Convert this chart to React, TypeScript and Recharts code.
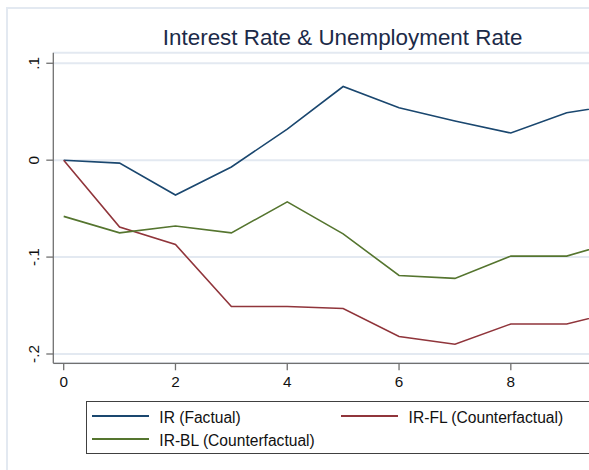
import React from "react";
import { LineChart, Line, XAxis, YAxis, CartesianGrid, Legend } from "recharts";

const periods = [0, 1, 2, 3, 4, 5, 6, 7, 8, 9, 10];
const irFactual = [0, -0.003, -0.036, -0.007, 0.032, 0.076, 0.054, 0.0405, 0.028, 0.049, 0.058];
const irFL = [0, -0.069, -0.087, -0.151, -0.151, -0.153, -0.182, -0.19, -0.169, -0.169, -0.155];
const irBL = [-0.058, -0.075, -0.068, -0.075, -0.043, -0.076, -0.119, -0.122, -0.099, -0.099, -0.082];

const xTicks = [0, 2, 4, 6, 8];
const yTicks = [-0.2, -0.1, 0, 0.1];
const yTickLabels: Record<string, string> = { "-0.2": "-.2", "-0.1": "-.1", "0": "0", "0.1": ".1" };

const titleText = "Interest Rate & Unemployment Rate";
const seriesNames = ["IR (Factual)", "IR-FL (Counterfactual)", "IR-BL (Counterfactual)"];
const seriesColors = ["#1a476f", "#90353b", "#55752f"];

const data = periods.map((p, i) => ({ x: p, ir: irFactual[i], fl: irFL[i], bl: irBL[i] }));

const FONT = "'Liberation Sans', Arial, sans-serif";

const XTick = (props: any) => {
  const { x, y, payload } = props;
  return (
    <text x={x} y={y} dy={15} textAnchor="middle" fontSize={15.3} fontFamily={FONT} fill="#111">
      {String(payload.value)}
    </text>
  );
};

const YTick = (props: any) => {
  const { x, y, payload } = props;
  const label = yTickLabels[String(payload.value)] ?? String(payload.value);
  return (
    <text
      transform={`translate(${x - 5}, ${y}) rotate(-90)`}
      x={0}
      y={0}
      textAnchor="middle"
      fontSize={15.3}
      fontFamily={FONT}
      fill="#111"
    >
      {label}
    </text>
  );
};

const LegendBox = () => {
  const items = [
    { name: seriesNames[0], color: seriesColors[0], left: 4.7, top: 15.3 },
    { name: seriesNames[1], color: seriesColors[1], left: 254, top: 15.3 },
    { name: seriesNames[2], color: seriesColors[2], left: 4.7, top: 38.3 },
  ];
  return (
    <div
      style={{
        position: "relative",
        width: 560,
        height: 53,
        border: "1px solid #404040",
        boxSizing: "border-box",
        background: "#fff",
        fontFamily: FONT,
      }}
    >
      {items.map((it) => (
        <div key={it.name}>
          <div
            style={{
              position: "absolute",
              left: it.left,
              top: it.top - 1.5,
              width: 57,
              height: 2,
              background: it.color,
            }}
          />
          <div
            style={{
              position: "absolute",
              left: it.left + 67.6,
              top: it.top - 8.5,
              fontSize: 15.6,
              lineHeight: "19px",
              color: "#111",
              whiteSpace: "nowrap",
            }}
          >
            {it.name}
          </div>
        </div>
      ))}
    </div>
  );
};

export default function App() {
  return (
    <div
      style={{
        position: "absolute",
        left: 0,
        top: 0,
        width: 589,
        height: 470,
        overflow: "hidden",
        background: "#fff",
        fontFamily: FONT,
      }}
    >
      <div
        style={{
          position: "absolute",
          left: 6,
          top: 7,
          width: 800,
          height: 800,
          border: "2px solid #e3e9f1",
          boxSizing: "border-box",
        }}
      />
      <svg style={{ position: "absolute", left: 0, top: 0 }} width={589} height={60}>
        <text x={342.7} y={45} textAnchor="middle" fontSize={22.4} fontFamily={FONT} fill="#1c2a48">
          {titleText}
        </text>
      </svg>
      <div style={{ position: "absolute", left: 0, top: 0 }}>
        <LineChart
          width={660}
          height={470}
          data={data}
          margin={{ top: 52.7, right: 27, bottom: 76.7, left: 0 }}
        >
          <CartesianGrid vertical={false} stroke="#e3e9f1" strokeWidth={2} />
          <XAxis
            dataKey="x"
            type="number"
            domain={[-0.186, 10.186]}
            ticks={xTicks}
            allowDataOverflow
            height={30}
            tickSize={7}
            tick={<XTick />}
            axisLine={{ stroke: "#707070", strokeWidth: 1.3 }}
            tickLine={{ stroke: "#707070", strokeWidth: 1.3 }}
          />
          <YAxis
            type="number"
            domain={[-0.2096, 0.1109]}
            ticks={yTicks}
            allowDataOverflow
            width={53.3}
            tickSize={7}
            tick={<YTick />}
            axisLine={{ stroke: "#707070", strokeWidth: 1.3 }}
            tickLine={{ stroke: "#707070", strokeWidth: 1.3 }}
          />
          <Line type="linear" dataKey="ir" name={seriesNames[0]} stroke={seriesColors[0]} strokeWidth={1.6} dot={false} isAnimationActive={false} />
          <Line type="linear" dataKey="fl" name={seriesNames[1]} stroke={seriesColors[1]} strokeWidth={1.6} dot={false} isAnimationActive={false} />
          <Line type="linear" dataKey="bl" name={seriesNames[2]} stroke={seriesColors[2]} strokeWidth={1.6} dot={false} isAnimationActive={false} />
          <Legend
            layout="vertical"
            align="center"
            verticalAlign="middle"
            content={<LegendBox />}
            wrapperStyle={{ position: "absolute", left: 86, top: 400.7, width: 560, height: 53 }}
          />
        </LineChart>
      </div>
    </div>
  );
}
